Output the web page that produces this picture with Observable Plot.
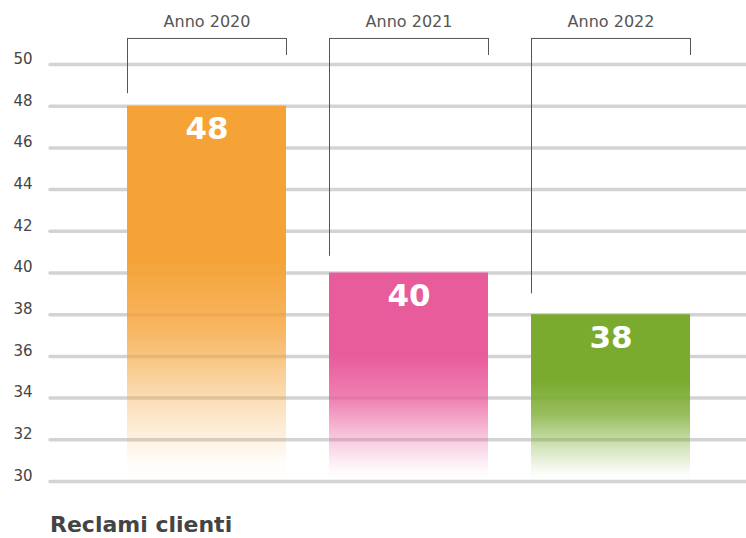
<!DOCTYPE html>
<html>
<head>
<meta charset="utf-8">
<script src="https://cdn.jsdelivr.net/npm/d3@7"></script>
<script src="https://cdn.jsdelivr.net/npm/@observablehq/plot@0.6"></script>
<style>
  html, body { margin: 0; padding: 0; background: #fff; }
  #title { margin: 14px 0 0 50px; font: 700 22px "DejaVu Sans", sans-serif; color: #444; line-height: 22px; }
</style>
</head>
<body>
<div id="chart"></div>
<div id="title"></div>
<script>
const years = ["Anno 2020", "Anno 2021", "Anno 2022"];
const values = [48, 40, 38];
const colors = ["#F5A236", "#E95C9C", "#7AAB2F"];
const bracketEnds = [48.6, 40.8, 39.0];
const yTicks = [30, 32, 34, 36, 38, 40, 42, 44, 46, 48, 50];
const titleText = "Reclami clienti";

const bracketTop = 51.25;
const bracketRight = 50.43;

const data = years.map((year, i) => ({ year, value: values[i], color: colors[i], end: bracketEnds[i], i }));

const xRange = [127, 690.5];
const padIn = 0.214;
const step = (xRange[1] - xRange[0]) / (years.length - padIn);
const half = step * (1 - padIn) / 2;

const defs = () => {
  const d = d3.create("svg:defs");
  data.forEach(row => {
    const g = d.append("linearGradient")
      .attr("id", "grad" + row.i)
      .attr("x1", 0).attr("y1", 0).attr("x2", 0).attr("y2", 1);
    [[0, 1], [0.4, 1], [0.6, 0.78], [0.8, 0.32], [0.95, 0.03], [1, 0]].forEach(([o, a]) => {
      g.append("stop").attr("offset", o).attr("stop-color", row.color).attr("stop-opacity", a);
    });
  });
  return d.node();
};

const chart = Plot.plot({
  width: 746,
  height: 500,
  marginTop: 64,
  marginBottom: 19,
  marginLeft: 50,
  marginRight: 0,
  style: { fontFamily: "DejaVu Sans, sans-serif", background: "#fff" },
  x: { type: "band", domain: years, range: xRange, paddingInner: padIn, paddingOuter: 0, axis: null },
  y: { domain: [30, 50], range: [481, 64], axis: null },
  marks: [
    defs,
    Plot.ruleY(yTicks, { y: d => d, stroke: "#d3d3d3", strokeWidth: 3.5, strokeLinecap: "round" }),
    Plot.text(yTicks, { y: d => d, text: d => String(d), frameAnchor: "left", textAnchor: "end", dx: -18, dy: -5.5, fontSize: 15, fill: "#444" }),
    Plot.barY(data, { x: "year", y1: 30, y2: "value", fill: d => `url(#grad${d.i})` }),
    Plot.text(data, { x: "year", y: "value", text: d => String(d.value), dy: 23, fill: "#fff", fontSize: 31, fontWeight: "bold" }),
    Plot.tickY(data, { x: "year", y: bracketTop, stroke: "#555", strokeWidth: 1 }),
    Plot.ruleX(data, { x: "year", y1: "end", y2: bracketTop, dx: -half, stroke: "#555", strokeWidth: 1 }),
    Plot.ruleX(data, { x: "year", y1: bracketRight, y2: bracketTop, dx: half, stroke: "#555", strokeWidth: 1 }),
    Plot.text(data, { x: "year", text: "year", frameAnchor: "top", lineAnchor: "middle", dy: -43, fontSize: 16, fill: "#555" })
  ]
});

document.getElementById("chart").appendChild(chart);
document.getElementById("title").textContent = titleText;
</script>
</body>
</html>
